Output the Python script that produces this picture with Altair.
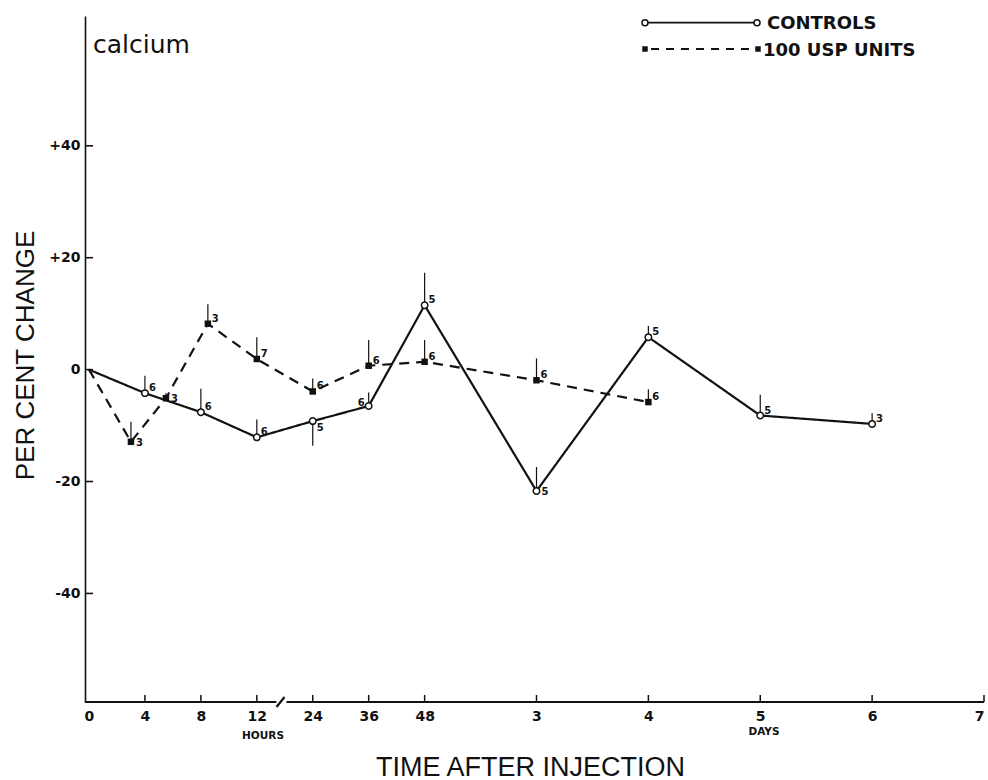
import altair as alt
import pandas as pd

# Mean per cent change of serum calcium after injection.
# Times are given in hours; from 72 h onward the axis switches to days.
ctrl_hours = [0, 4, 8, 12, 24, 36, 48, 72, 96, 120, 144]
ctrl_change = [0, -4.2, -7.6, -12.1, -9.2, -6.5, 11.5, -21.7, 5.8, -8.2, -9.7]
ctrl_err_end = [0, -1.1, -3.4, -8.9, -13.6, -4.1, 17.3, -17.4, 7.8, -4.5, -7.8]
ctrl_n = ["", "6", "6", "6", "5", "6", "5", "5", "5", "5", "3"]

usp_hours = [0, 3, 5.5, 8.5, 12, 24, 36, 48, 72, 96]
usp_change = [0, -12.9, -5.1, 8.2, 1.9, -3.9, 0.7, 1.4, -1.9, -5.8]
usp_err_end = [0, -9.3, -4.2, 11.7, 5.8, -1.6, 5.3, 5.3, 2.0, -3.5]
usp_n = ["", "3", "3", "3", "7", "6", "6", "6", "6", "6"]

# broken time axis: 0-12 h, 24-48 h, then days 3-7
tick_pos = [0, 1, 2, 3, 4, 5, 6, 8, 10, 12, 14, 16]
tick_labels = ["0", "4", "8", "12", "24", "36", "48", "3", "4", "5", "6", "7"]
y_ticks = [-40, -20, 0, 20, 40]

X_DOMAIN = [-0.0715, 16]
Y_DOMAIN = [-59.4, 63.2]
AXIS_BREAK = (3.35, 3.53)

# where the sample-size label sits relative to its point (default: above right)
label_side = {
    ("CONTROLS", 24): "below",
    ("CONTROLS", 36): "left",
    ("CONTROLS", 72): "level",
    ("100 USP UNITS", 3): "level",
    ("100 USP UNITS", 5.5): "level",
}


def axis_pos(h):
    """Map hours onto the broken axis."""
    if h <= 12:
        return h / 4
    if h <= 48:
        return 4 + (h - 24) / 12
    return 8 + 2 * (h / 24 - 3)


rows = []
for name, hrs, chg, err, ns in [
    ("CONTROLS", ctrl_hours, ctrl_change, ctrl_err_end, ctrl_n),
    ("100 USP UNITS", usp_hours, usp_change, usp_err_end, usp_n),
]:
    for h, c, e, n in zip(hrs, chg, err, ns):
        rows.append({
            "series": name, "hours": h, "pos": axis_pos(h), "change": c,
            "err_end": e, "n": n, "side": label_side.get((name, h), "above"),
        })
df = pd.DataFrame(rows)

BLACK = "#111111"
TICK_FONT = "DejaVu Sans"
TITLE_FONT = "Liberation Sans"

x_axis = alt.Axis(
    values=tick_pos,
    labelExpr=f"{tick_labels}[indexof({tick_pos}, datum.value)]",
    domain=False, ticks=False, grid=False,
    labelFont=TICK_FONT, labelFontWeight="bold", labelFontSize=14,
    labelColor=BLACK, labelPadding=7,
    title="TIME AFTER INJECTION", titleFont=TITLE_FONT, titleFontSize=27,
    titleFontWeight="normal", titleColor=BLACK,
    titleX=445, titleY=73, titleAlign="center", titleBaseline="alphabetic",
)
y_axis = alt.Axis(
    values=y_ticks,
    labelExpr="datum.value > 0 ? '+' + datum.value : '' + datum.value",
    domain=True, domainColor=BLACK, domainWidth=1.6,
    ticks=False, grid=False,
    labelFont=TICK_FONT, labelFontWeight="bold", labelFontSize=14,
    labelColor=BLACK, labelPadding=5,
    title="PER CENT CHANGE", titleFont=TITLE_FONT, titleFontSize=26,
    titleFontWeight="normal", titleColor=BLACK,
    titleAngle=270, titleX=-52, titleY=339, titleAlign="center",
    titleBaseline="alphabetic",
)

X = alt.X("pos:Q", scale=alt.Scale(domain=X_DOMAIN, nice=False, zero=False), axis=x_axis)
Y = alt.Y("change:Q", scale=alt.Scale(domain=Y_DOMAIN, nice=False, zero=False), axis=y_axis)

base = alt.Chart(df)
points = base.transform_filter("datum.hours > 0")

# x axis line with its break, plus the inward ticks
axis_segments = pd.DataFrame({
    "pos": [X_DOMAIN[0], AXIS_BREAK[1]],
    "pos2": [AXIS_BREAK[0], X_DOMAIN[1]],
})
x_line = alt.Chart(axis_segments).mark_rule(color=BLACK, strokeWidth=2).encode(
    x=X, x2="pos2:Q", y=alt.value(686)
)
one = pd.DataFrame({"k": [0]})
break_mark = alt.Chart(one).mark_rule(color=BLACK, strokeWidth=2.2).encode(
    x=alt.value(191.5), x2=alt.value(199.5), y=alt.value(691), y2=alt.value(681)
)
x_ticks = alt.Chart(pd.DataFrame({"pos": tick_pos[1:]})).mark_rule(
    color=BLACK, strokeWidth=1.5
).encode(x=X, y=alt.value(686), y2=alt.value(679))
y_tick_marks = alt.Chart(pd.DataFrame({"change": y_ticks})).mark_rule(
    color=BLACK, strokeWidth=1.6
).encode(y=Y, x=alt.value(0), x2=alt.value(8))

lines = base.mark_line(color=BLACK, strokeWidth=2.2).encode(
    x=X, y=Y,
    detail="series:N",
    strokeDash=alt.StrokeDash(
        "series:N",
        scale=alt.Scale(domain=["CONTROLS", "100 USP UNITS"], range=[[1, 0], [10, 7]]),
        legend=None,
    ),
)

err_bars = points.mark_rule(color=BLACK, strokeWidth=1.2).encode(
    x=X, y=Y, y2="err_end:Q"
)

ctrl_pts = points.transform_filter("datum.series == 'CONTROLS'").mark_point(
    shape="circle", filled=True, fill="white", stroke=BLACK, strokeWidth=1.5,
    size=42, opacity=1,
).encode(x=X, y=Y)
usp_pts = points.transform_filter("datum.series == '100 USP UNITS'").mark_square(
    color=BLACK, size=42, opacity=1
).encode(x=X, y=Y)


def n_labels(side, **kw):
    return points.transform_filter(f"datum.side == '{side}'").mark_text(
        font=TICK_FONT, fontWeight="bold", fontSize=10, color=BLACK,
        baseline="middle", **kw
    ).encode(x=X, y=Y, text="n:N")


labels = [
    n_labels("above", align="left", dx=4, dy=-5),
    n_labels("level", align="left", dx=5, dy=1),
    n_labels("below", align="left", dx=4, dy=7),
    n_labels("left", align="right", dx=-4, dy=-3),
]


def note(text, x, y, size, weight="normal", font=TICK_FONT, align="left",
         baseline="alphabetic"):
    return alt.Chart(one).mark_text(
        text=text, font=font, fontSize=size, fontWeight=weight, color=BLACK,
        align=align, baseline=baseline,
    ).encode(x=alt.value(x), y=alt.value(y))


notes = [
    note("calcium", 8, 37, 25),
    note("HOURS", 178, 720, 10.5, "bold", align="center", baseline="middle"),
    note("DAYS", 679, 716, 10.5, "bold", align="center", baseline="middle"),
]

# legend, drawn as a key in the upper right corner
ROW1, ROW2 = 6.7, 33
leg = [
    alt.Chart(one).mark_rule(color=BLACK, strokeWidth=1.8).encode(
        x=alt.value(560), x2=alt.value(672), y=alt.value(ROW1)
    ),
    alt.Chart(one).mark_point(shape="circle", filled=True, fill="white", stroke=BLACK,
                              strokeWidth=1.5, size=36, opacity=1).encode(
        x=alt.value(560), y=alt.value(ROW1)),
    alt.Chart(one).mark_point(shape="circle", filled=True, fill="white", stroke=BLACK,
                              strokeWidth=1.5, size=36, opacity=1).encode(
        x=alt.value(672), y=alt.value(ROW1)),
    alt.Chart(one).mark_rule(color=BLACK, strokeWidth=2.2, strokeDash=[8, 7]).encode(
        x=alt.value(566), x2=alt.value(673), y=alt.value(ROW2)
    ),
    alt.Chart(one).mark_square(color=BLACK, size=30, opacity=1).encode(
        x=alt.value(560), y=alt.value(ROW2)),
    alt.Chart(one).mark_square(color=BLACK, size=30, opacity=1).encode(
        x=alt.value(673), y=alt.value(ROW2)),
    note("CONTROLS", 682, 12.8, 18, "bold"),
    note("100 USP UNITS", 678, 39.5, 18, "bold"),
]

chart = alt.layer(
    x_line, break_mark, x_ticks, y_tick_marks, lines, err_bars, ctrl_pts, usp_pts,
    *labels, *notes, *leg,
).properties(
    width=899, height=686,
    padding={"left": 85, "top": 16, "right": 4, "bottom": 78},
    autosize=alt.AutoSizeParams(type="none"),
    background="white",
).configure_view(stroke=None)

chart.save("out.html", embed_options={"renderer": "svg", "actions": False})
